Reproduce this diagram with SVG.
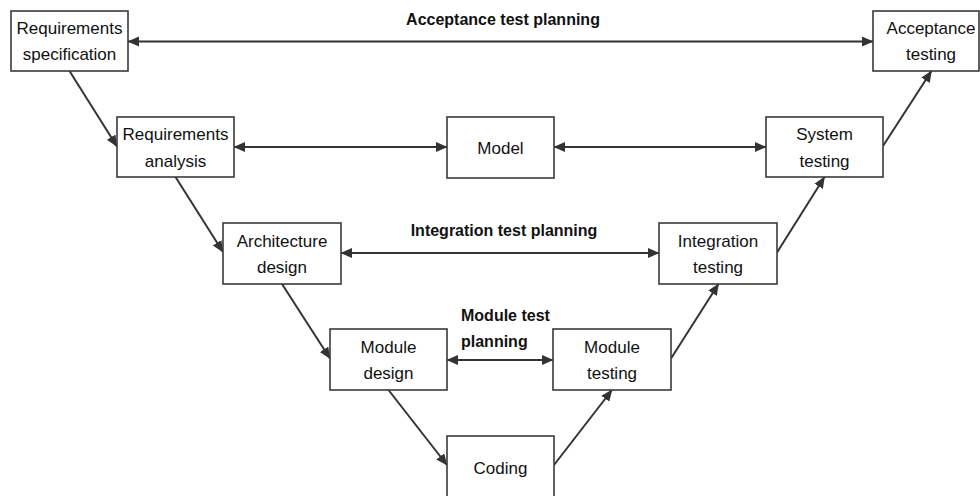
<svg xmlns="http://www.w3.org/2000/svg" width="980" height="496" viewBox="0 0 980 496">
<defs>
<marker id="ah" markerUnits="userSpaceOnUse" markerWidth="13" markerHeight="11" refX="11" refY="5" orient="auto-start-reverse" viewBox="0 0 13 11">
<path d="M0,0 L11.5,5 L0,10 z" fill="#333"/>
</marker>
<style>
.box{fill:#fff;stroke:#3a3a3a;stroke-width:1.6}
.t{font-family:"Liberation Sans",Arial,sans-serif;font-size:17px;fill:#111;text-anchor:middle}
.b{font-family:"Liberation Sans",Arial,sans-serif;font-size:16px;font-weight:bold;fill:#111}
.c{fill:none;stroke:#333;stroke-width:2}
.one{marker-end:url(#ah)}
.two{marker-start:url(#ah);marker-end:url(#ah)}
</style>
</defs>
<rect width="980" height="496" fill="#fff"/>
<g id="connectors">
<line class="c two" x1="128" y1="41.5" x2="873" y2="41.5"/>
<line class="c two" x1="234" y1="147" x2="447" y2="147"/>
<line class="c two" x1="554" y1="147" x2="766" y2="147"/>
<line class="c two" x1="341" y1="253" x2="659" y2="253"/>
<line class="c two" x1="447" y1="360" x2="553" y2="360"/>
<line class="c one" x1="69.5" y1="71" x2="117" y2="146.5"/>
<line class="c one" x1="175.5" y1="177" x2="223" y2="252"/>
<line class="c one" x1="282" y1="284" x2="330" y2="358.5"/>
<line class="c one" x1="388.5" y1="390" x2="447" y2="465"/>
<line class="c one" x1="554" y1="465" x2="612" y2="390"/>
<line class="c one" x1="671" y1="358.5" x2="718.5" y2="284"/>
<line class="c one" x1="777" y1="252.5" x2="824.5" y2="177"/>
<line class="c one" x1="883" y1="146" x2="931.5" y2="71"/>
</g>
<g id="acceptance-test-planning"><text class="b" x="503" y="24.5" text-anchor="middle">Acceptance test planning</text></g>
<g id="integration-test-planning"><text class="b" x="504" y="236" text-anchor="middle">Integration test planning</text></g>
<g id="module-test-planning"><text class="b" x="461" y="321">Module test</text><text class="b" x="461" y="347">planning</text></g>
<g id="requirements-specification"><rect class="box" x="11" y="11" width="117" height="60"/><text class="t" x="69.5" y="34">Requirements</text><text class="t" x="69.5" y="60">specification</text></g>
<g id="requirements-analysis"><rect class="box" x="117" y="117" width="117" height="60"/><text class="t" x="175.5" y="140">Requirements</text><text class="t" x="175.5" y="166.5">analysis</text></g>
<g id="model"><rect class="box" x="447" y="117" width="107" height="61"/><text class="t" x="500.5" y="154">Model</text></g>
<g id="system-testing"><rect class="box" x="766" y="117" width="117" height="60"/><text class="t" x="824.5" y="140">System</text><text class="t" x="824.5" y="166.5">testing</text></g>
<g id="acceptance-testing"><rect class="box" x="873" y="11" width="106" height="60"/><text class="t" x="931" y="34">Acceptance</text><text class="t" x="931" y="60">testing</text></g>
<g id="architecture-design"><rect class="box" x="223" y="223" width="118" height="61"/><text class="t" x="282" y="247">Architecture</text><text class="t" x="282" y="273">design</text></g>
<g id="integration-testing"><rect class="box" x="659" y="223" width="118" height="61"/><text class="t" x="718" y="247">Integration</text><text class="t" x="718" y="273">testing</text></g>
<g id="module-design"><rect class="box" x="330" y="329" width="117" height="61"/><text class="t" x="388.5" y="353">Module</text><text class="t" x="388.5" y="379">design</text></g>
<g id="module-testing"><rect class="box" x="553" y="329" width="118" height="61"/><text class="t" x="612" y="353">Module</text><text class="t" x="612" y="379">testing</text></g>
<g id="coding"><rect class="box" x="447" y="436" width="107" height="61"/><text class="t" x="500.5" y="474">Coding</text></g>
</svg>
